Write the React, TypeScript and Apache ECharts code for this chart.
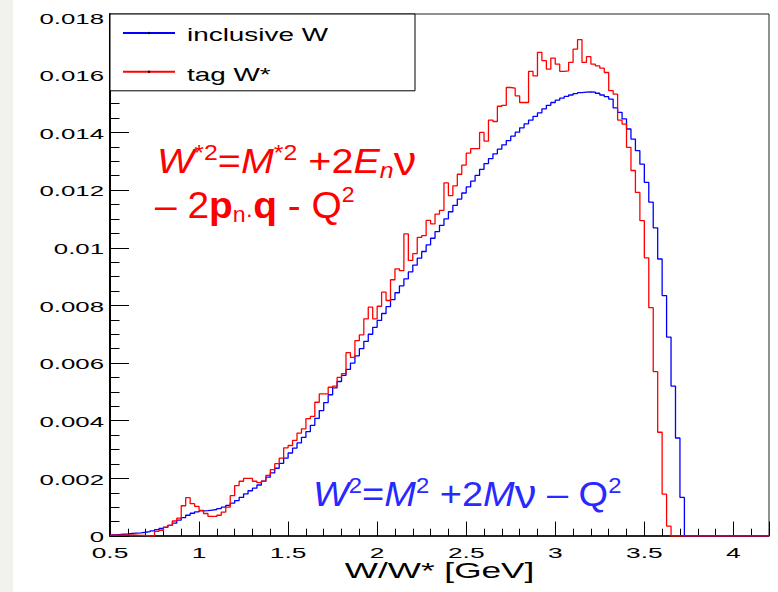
import React, { useEffect, useRef } from "react";
import * as echarts from "echarts";

// ---- data: histogram bin contents (bin width 0.025 GeV, first bin starts at 0.5 GeV)
const BIN_START = 0.5;
const BIN_WIDTH = 0.025;
const X_MIN = 0.5;
const X_MAX = 4.2;
const Y_MAX = 0.01811;

const inclusiveW = [
  0.00004, 0.00005, 0.00006, 0.00007, 0.00009, 0.0001, 0.00011, 0.00013, 0.00015, 0.00018,
  0.00022, 0.00026, 0.0003, 0.00037, 0.00045, 0.00055, 0.00064, 0.00072, 0.00079, 0.00084,
  0.00087, 0.00088, 0.0009, 0.00092, 0.00095, 0.001, 0.00106, 0.00114, 0.00123, 0.00134,
  0.00146, 0.00157, 0.00166, 0.00177, 0.0019, 0.00204, 0.00219, 0.00235, 0.00252, 0.0027,
  0.00288, 0.00305, 0.00323, 0.00342, 0.00362, 0.00384, 0.00408, 0.00435, 0.00463, 0.0049,
  0.00514, 0.00536, 0.00557, 0.00578, 0.006, 0.00625, 0.0065, 0.00675, 0.007, 0.00724,
  0.00748, 0.00772, 0.00796, 0.0082, 0.00844, 0.00868, 0.00892, 0.00916, 0.0094, 0.00964,
  0.00987, 0.0101, 0.01033, 0.01056, 0.01078, 0.011, 0.01125, 0.01147, 0.01169, 0.0119,
  0.01211, 0.01231, 0.01251, 0.01272, 0.01292, 0.01309, 0.01326, 0.01342, 0.01357, 0.01372,
  0.01387, 0.01401, 0.01416, 0.0143, 0.01443, 0.01456, 0.01468, 0.01482, 0.01494, 0.01504,
  0.01512, 0.01519, 0.01525, 0.0153, 0.01535, 0.01538, 0.0154, 0.01541, 0.0154, 0.01536,
  0.0153, 0.01524, 0.01516, 0.01485, 0.0147, 0.01447, 0.01412, 0.01377, 0.01337, 0.0129,
  0.01227, 0.01158, 0.01069, 0.00961, 0.00834, 0.0069, 0.0052, 0.0034, 0.00134,
  0, 0, 0, 0, 0, 0, 0, 0, 0, 0, 0, 0, 0, 0, 0, 0, 0, 0, 0,
];

const tagWStar = [
  0.00003, 0.00003, 0.00004, 0.00003, 0.00004, 0.00003, 0.00002, 0.00002, 0, 0,
  0.00016, 0.0002, 0.00031, 0.00037, 0.00052, 0.00062, 0.00105, 0.00133, 0.00112, 0.00103,
  0.00089, 0.00078, 0.00068, 0.00068, 0.00072, 0.00083, 0.001, 0.0014, 0.00175, 0.0019,
  0.002, 0.002, 0.0019, 0.00185, 0.0019, 0.0021, 0.0023, 0.00251, 0.0027, 0.00306,
  0.00314, 0.00332, 0.00357, 0.00372, 0.00407, 0.00415, 0.00464, 0.00493, 0.00493, 0.00516,
  0.0052, 0.0055, 0.00563, 0.00636, 0.0062, 0.00678, 0.00698, 0.00753, 0.00794, 0.00753,
  0.00797, 0.00846, 0.00817, 0.00889, 0.00927, 0.00921, 0.01048, 0.00956, 0.0098, 0.01036,
  0.01042, 0.01095, 0.01083, 0.01117, 0.0113, 0.01225, 0.01181, 0.01215, 0.01255, 0.01287,
  0.01328, 0.01344, 0.01344, 0.014, 0.0137, 0.01443, 0.01438, 0.01491, 0.01494, 0.01556,
  0.01554, 0.01527, 0.01504, 0.01504, 0.01612, 0.01596, 0.01678, 0.01649, 0.0162, 0.01658,
  0.01637, 0.01612, 0.01614, 0.01643, 0.01689, 0.01722, 0.01643, 0.01663, 0.01637, 0.01631,
  0.01623, 0.01608, 0.01545, 0.01533, 0.01443, 0.01429, 0.01348, 0.01268, 0.01192, 0.01094,
  0.00965, 0.00792, 0.0057, 0.0036, 0.00145, 0.00034,
  0, 0, 0, 0, 0, 0, 0, 0, 0, 0, 0, 0, 0, 0, 0, 0, 0, 0, 0, 0, 0, 0,
];

const SERIES_NAMES = ["inclusive W", "tag W*"];
const X_TICKS = [0.5, 1, 1.5, 2, 2.5, 3, 3.5, 4];
const X_TICK_LABELS = ["0.5", "1", "1.5", "2", "2.5", "3", "3.5", "4"];
const Y_TICKS = [0, 0.002, 0.004, 0.006, 0.008, 0.01, 0.012, 0.014, 0.016, 0.018];
const Y_TICK_LABELS = ["0", "0.002", "0.004", "0.006", "0.008", "0.01", "0.012", "0.014", "0.016", "0.018"];
const X_TITLE = "W/W* [GeV]";

const BLUE = "#0000ff";
const RED = "#ff0000";
const BLUE_TEXT = "#2828ff";
const FONT = "Liberation Sans";

function toSteps(values: number[]) {
  const pts: number[][] = values.map((v, i) => [Number((BIN_START + i * BIN_WIDTH).toFixed(4)), v]);
  pts.push([X_MAX, values[values.length - 1]]);
  return pts;
}

function label(x: number, y: number, text: string, size: number, sx: number, align: string) {
  return {
    type: "text",
    x,
    y,
    z: 100,
    scaleX: sx,
    silent: true,
    style: {
      text,
      fontFamily: FONT,
      fontSize: size,
      fill: "#000",
      textAlign: align,
      textVerticalAlign: "middle",
      align,
      verticalAlign: "middle",
    },
  };
}

function richFor(color: string, size: number, lh: number) {
  return {
    it: { fontFamily: FONT, fontStyle: "italic", fontSize: size, lineHeight: lh, fill: color },
    rm: { fontFamily: FONT, fontSize: size, lineHeight: lh, fill: color },
    bd: { fontFamily: FONT, fontWeight: "bold", fontSize: size, lineHeight: lh, fill: color },
    sup: { fontFamily: FONT, fontSize: 22, lineHeight: lh - 9, verticalAlign: "top", fill: color },
    sub: { fontFamily: FONT, fontStyle: "italic", fontSize: 22, lineHeight: 14, verticalAlign: "bottom", fill: color },
    sub2: { fontFamily: FONT, fontSize: 22, lineHeight: 24, verticalAlign: "bottom", fill: color },
    dot: { fontFamily: FONT, fontSize: 22, lineHeight: 32, verticalAlign: "bottom", fill: color },
    nu: { fontFamily: FONT, fontSize: 40, lineHeight: 36.6, verticalAlign: "top", fill: color },
  };
}

function richText(x: number, y: number, text: string, rich: any, sx: number) {
  return {
    type: "text",
    x,
    y,
    z: 100,
    scaleX: sx,
    silent: true,
    style: {
      text,
      rich,
      fontFamily: FONT,
      fontSize: 35,
      textAlign: "left",
      textVerticalAlign: "middle",
      align: "left",
      verticalAlign: "middle",
    },
  };
}

export default function App() {
  const ref = useRef<HTMLDivElement>(null);

  useEffect(() => {
    if (!ref.current) return;
    const chart = echarts.init(ref.current, undefined, { renderer: "svg" });

    const tickLine = { color: "#000", width: 1 };
    const option: any = {
      animation: false,
      backgroundColor: "#ffffff",
      grid: {
        left: 110,
        right: 9,
        top: 14,
        bottom: 56,
        show: true,
        borderColor: "#222",
        borderWidth: 1,
        backgroundColor: "transparent",
      },
      legend: {
        data: SERIES_NAMES,
        orient: "vertical",
        left: 110,
        top: 14,
        padding: [17.8, 235, 17.8, 12],
        itemGap: 36.4,
        itemWidth: 52,
        itemHeight: 3,
        backgroundColor: "#ffffff",
        borderColor: "#000",
        borderWidth: 1,
        formatter: () => "",
        textStyle: { fontSize: 3, lineHeight: 3 },
        itemStyle: { color: "#000", borderWidth: 0 },
        selectedMode: false,
      },
      xAxis: [
        {
          type: "value",
          min: X_MIN,
          max: X_MAX,
          interval: 0.5,
          position: "bottom",
          axisLine: { show: true, onZero: false, lineStyle: { color: "#000", width: 1.5 } },
          axisTick: { show: true, inside: true, length: 14.5, lineStyle: tickLine },
          axisLabel: { show: false },
          splitLine: { show: false },
        },
        {
          type: "value",
          min: X_MIN,
          max: X_MAX,
          interval: 0.1,
          position: "bottom",
          offset: 0,
          axisLine: { show: false, onZero: false },
          axisTick: { show: true, inside: true, length: 7.3, lineStyle: tickLine },
          axisLabel: { show: false },
          splitLine: { show: false },
        },
      ],
      yAxis: [
        {
          type: "value",
          min: 0,
          max: Y_MAX,
          interval: 0.002,
          position: "left",
          axisLine: { show: true, onZero: false, lineStyle: { color: "#000", width: 2 } },
          axisTick: { show: true, inside: true, length: 19, lineStyle: tickLine },
          axisLabel: { show: false },
          splitLine: { show: false },
        },
        {
          type: "value",
          min: 0,
          max: Y_MAX,
          interval: 0.0005,
          position: "left",
          offset: 0,
          axisLine: { show: false, onZero: false },
          axisTick: { show: true, inside: true, length: 9.5, lineStyle: tickLine },
          axisLabel: { show: false },
          splitLine: { show: false },
        },
      ],
      series: [
        {
          name: SERIES_NAMES[0],
          type: "line",
          step: "end",
          data: toSteps(inclusiveW),
          showSymbol: false,
          symbol: "circle",
          lineStyle: { color: BLUE, width: 1.3 },
          itemStyle: { color: BLUE },
          silent: true,
          z: 2,
        },
        {
          name: SERIES_NAMES[1],
          type: "line",
          step: "end",
          data: toSteps(tagWStar),
          showSymbol: false,
          symbol: "circle",
          lineStyle: { color: RED, width: 1.3 },
          itemStyle: { color: RED },
          silent: true,
          z: 3,
        },
      ],
    };
    chart.setOption(option);

    const px = (v: number) => chart.convertToPixel({ xAxisIndex: 0 }, v) as number;
    const py = (v: number) => chart.convertToPixel({ yAxisIndex: 0 }, v) as number;

    const elements: any[] = [];
    elements.push({
      type: "rect",
      silent: true,
      shape: { x: 0, y: 0, width: 13, height: 592 },
      style: { fill: "#f2f2ec" },
    });
    Y_TICKS.forEach((v, i) => elements.push(label(104, py(v) + 1, Y_TICK_LABELS[i], 15, 1.72, "right")));
    X_TICKS.forEach((v, i) => elements.push(label(px(v), 552.5, X_TICK_LABELS[i], 15.5, 1.7, "center")));
    const xMid = (px(X_MIN) + px(X_MAX)) / 2;
    elements.push(label(xMid, 570, X_TITLE, 22, 1.6, "center"));
    elements.push(label(187, 35, SERIES_NAMES[0], 18, 1.55, "left"));
    elements.push(label(187, 75, SERIES_NAMES[1], 18, 1.55, "left"));

    const red1 = richFor(RED, 35, 40);
    elements.push(
      richText(157, 161, "{it|W}{sup|*2}{rm|=}{it|M}{sup|*2}{rm| +2}{it|E}{sub|n}{nu|ν}", red1, 1.13)
    );
    const red2: any = richFor(RED, 37, 42);
    red2.sup = { fontFamily: FONT, fontSize: 22, lineHeight: 31.2, verticalAlign: "top", fill: RED };
    elements.push(
      richText(155, 205, "{rm|– 2}{bd|p}{sub2|n}{dot|·}{bd|q}{rm| - Q}{sup|2}", red2, 1.05)
    );
    const blue = richFor(BLUE_TEXT, 35, 40);
    elements.push(
      richText(313, 494, "{it|W}{sup|2}{rm|=}{it|M}{sup|2}{rm| +2}{it|M}{nu|ν}{rm| – Q}{sup|2}", blue, 1.085)
    );

    chart.setOption({ graphic: { elements } });

    return () => {
      chart.dispose();
    };
  }, []);

  return (
    <div
      ref={ref}
      style={{ position: "fixed", left: 0, top: 0, width: 778, height: 592, background: "#ffffff" }}
    />
  );
}
